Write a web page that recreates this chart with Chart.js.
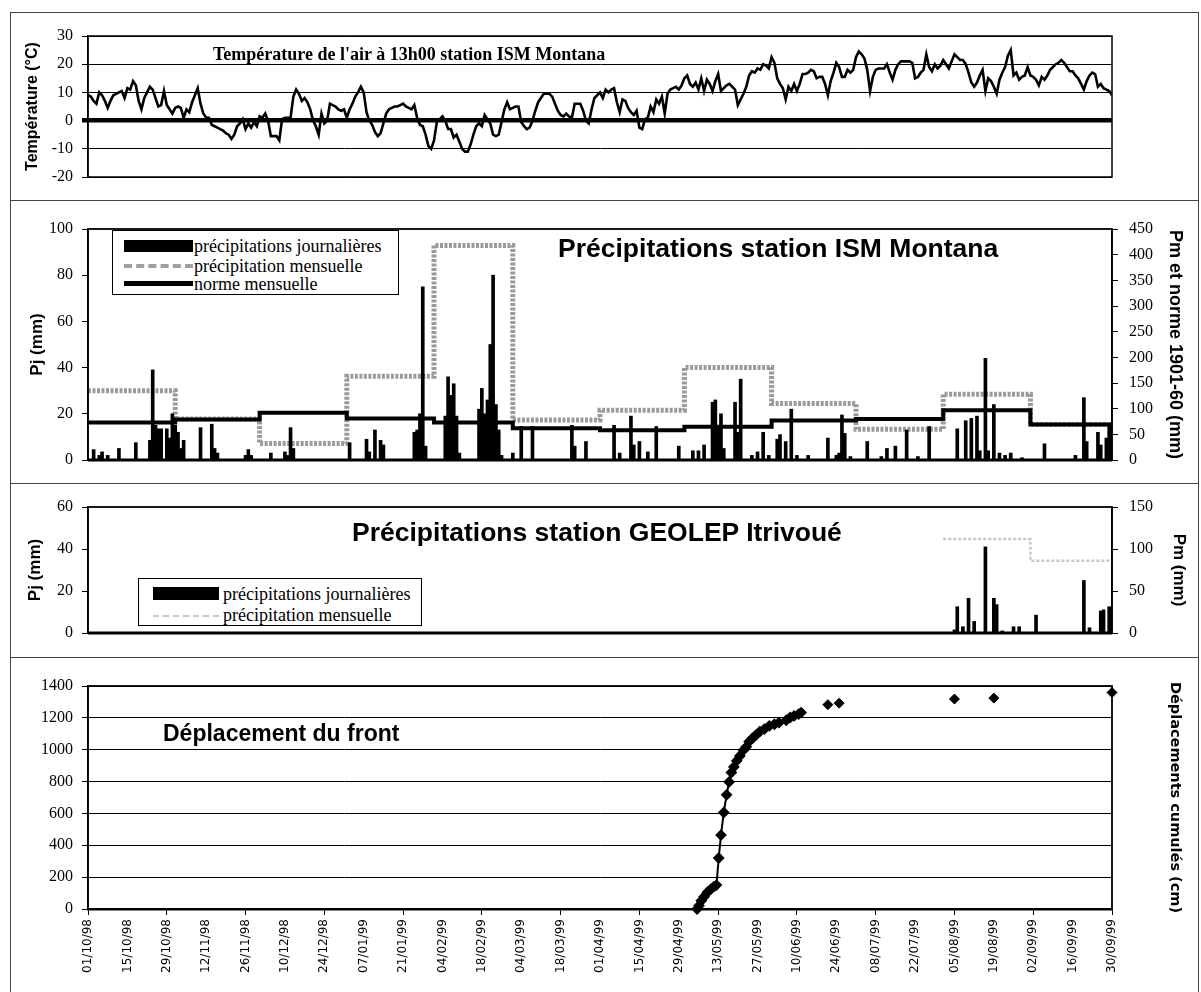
<!DOCTYPE html>
<html>
<head>
<meta charset="utf-8">
<script src="https://cdn.jsdelivr.net/npm/chart.js@4.4.1/dist/chart.umd.min.js"></script>
<style>
  body { margin: 0; background: #fff; }
  #page { position: relative; width: 1201px; height: 992px; overflow: hidden; background: #fff; }
  canvas { position: absolute; left: 0; }
  .hline { position: absolute; height: 0; border-top: 1.5px solid #444; }
  .vline { position: absolute; width: 0; border-left: 1.5px solid #444; }
  .txt { position: absolute; white-space: nowrap; color: #000; }
  .serif { font-family: "Liberation Serif", serif; }
  .sans { font-family: "Liberation Sans", Arial, sans-serif; font-weight: bold; }
  .legend { position: absolute; border: 1px solid #000; background: #fff; }
  .legend .s { position: absolute; }
  .legend .t { position: absolute; white-space: nowrap; font-family: "Liberation Serif", serif; color: #000; }
</style>
</head>
<body>
<div id="page">
  <!-- panel frames -->
  <div class="hline" style="left:10px;top:12px;width:1189px"></div>
  <div class="hline" style="left:10px;top:200px;width:1189px"></div>
  <div class="hline" style="left:10px;top:483px;width:1189px"></div>
  <div class="hline" style="left:10px;top:657px;width:1189px"></div>
  <div class="vline" style="left:10px;top:12px;height:980px"></div>
  <div class="vline" style="left:1198px;top:12px;height:980px"></div>

  <canvas id="tempChart" width="1201" height="188" style="top:12px"></canvas>
  <canvas id="rainChart" width="1201" height="283" style="top:200px"></canvas>
  <canvas id="geoChart" width="1201" height="174" style="top:483px"></canvas>
  <canvas id="dispChart" width="1201" height="335" style="top:657px"></canvas>

  <!-- titles -->
  <div class="txt serif" style="left:213px;top:44px;font-size:18px;font-weight:bold;line-height:21px">Température de l'air à 13h00 station ISM Montana</div>
  <div class="txt sans" style="left:558px;top:233px;font-size:26.5px;line-height:30px">Précipitations station ISM Montana</div>
  <div class="txt sans" style="left:352px;top:517px;font-size:26.5px;line-height:30px">Précipitations station GEOLEP Itrivoué</div>
  <div class="txt sans" style="left:163px;top:720px;font-size:23px;line-height:27px">Déplacement du front</div>

  <!-- legend ISM -->
  <div class="legend" style="left:112px;top:230px;width:285px;height:63px">
    <div class="s" style="left:11px;top:9px;width:69px;height:12px;background:#000"></div>
    <div class="t" style="left:81px;top:5px;font-size:18px;line-height:20px">précipitations journalières</div>
    <div class="s" style="left:11px;top:33px;width:69px;height:0;border-top:4px dashed #a0a0a0"></div>
    <div class="t" style="left:81px;top:25px;font-size:18px;line-height:20px">précipitation mensuelle</div>
    <div class="s" style="left:11px;top:50px;width:69px;height:5px;background:#000"></div>
    <div class="t" style="left:81px;top:43px;font-size:18px;line-height:20px">norme mensuelle</div>
  </div>

  <!-- legend GEOLEP -->
  <div class="legend" style="left:138px;top:578px;width:282px;height:46px">
    <div class="s" style="left:14px;top:8px;width:66px;height:13px;background:#000"></div>
    <div class="t" style="left:84px;top:5px;font-size:18px;line-height:20px">précipitations journalières</div>
    <div class="s" style="left:14px;top:36px;width:66px;height:0;border-top:2px dashed #c8c8c8"></div>
    <div class="t" style="left:84px;top:26px;font-size:18px;line-height:20px">précipitation mensuelle</div>
  </div>
</div>

<script>
// DATA ------------------------------------------------------------

// x axis: days since 01/10/98
const xTickLabels = [
  "01/10/98", "15/10/98", "29/10/98", "12/11/98", "26/11/98", "10/12/98", "24/12/98",
  "07/01/99", "21/01/99", "04/02/99", "18/02/99", "04/03/99", "18/03/99", "01/04/99",
  "15/04/99", "29/04/99", "13/05/99", "27/05/99", "10/06/99", "24/06/99", "08/07/99",
  "22/07/99", "05/08/99", "19/08/99", "02/09/99", "16/09/99", "30/09/99"
];
const lastDay = 364;

// air temperature at 13h00, one value per day (°C)
const temps = [
  9, 8.5, 7, 6, 10, 9, 7, 4.5, 7, 9,
  9.5, 10, 10.5, 8, 11.5, 11, 14, 12.5, 7, 4,
  8, 10, 12, 11, 8, 5, 5.5, 10.5, 5.5, 4,
  2.5, 4.5, 5, 4.5, 1, 4, 3, 6.5, 9, 11.5,
  6, 2.5, 1, 1, -1.5, -2, -2.5, -3, -3.5, -4.5,
  -5, -6.5, -5, -2, -1, 0.5, -3, -1, -2.5, -0.5,
  -2, 1.5, 1, 2.5, 0, -5.5, -5.5, -5.5, -7, 0.5,
  1, 1, 1, 8.5, 11, 9.5, 7, 8, 6.5, 4,
  0, -2, -5, 2.5, -1, 0, 6, 5.5, 5, 4,
  3.5, 4, 1, 4, 6, 8.5, 10, 12, 10, 3,
  0, -1.5, -4, -5.5, -4.5, -1, 2.5, 4, 4.5, 5,
  5, 5.5, 6, 5, 4.5, 4, 5.5, 1, -1.5, -2,
  -5, -9, -10, -7, -0.5, 0.5, 1.5, 0, -3, -3,
  -6, -5, -7.5, -10, -11, -11, -8.5, -5, -2, -1,
  -2, 2, 0.5, -1, -5, -5.5, -5, -0.5, 4, 6.5,
  4, 4.5, 5, 5, -0.5, -2, -3, -2.5, 0, 3.5,
  6.5, 8, 9.5, 9.5, 9.5, 8.5, 6, 3.5, 2, 1.5,
  2.5, 1.5, 1, 6, 6, 6, 3.5, 0, -1, 4,
  8, 9, 10, 8, 11, 10, 11, 11.5, 6.5, 3,
  7.5, 7, 4.5, 3, 2, 3.5, -2.5, -3, 0.5, 1,
  5, 3, 7.5, 6, 8.5, 2.5, 9.5, 11, 11.5, 12,
  11, 12.5, 15, 16, 13, 12, 13.5, 11, 15, 10.5,
  14.5, 13, 10.5, 14, 16.5, 10.5, 11.5, 12.5, 13, 12,
  11, 5.5, 7.5, 9.5, 12, 16, 17.5, 17, 18.5, 18,
  20, 19.5, 18.5, 22.5, 20.5, 15, 13, 11.5, 7.5, 12,
  10.5, 13, 10.5, 13, 16.5, 16.5, 17, 18, 17.5, 15,
  15.5, 15.5, 13, 9, 14, 17, 20.5, 19, 15.5, 15.5,
  18, 17, 18, 22.5, 24.5, 23.5, 22, 18, 10.5, 15.5,
  18, 18.5, 18.5, 18.5, 20, 17, 14.5, 18, 20, 21,
  21, 21, 21, 20.5, 15, 15.5, 17, 18, 23.5, 19,
  17.5, 20, 18.5, 19.5, 21.5, 20, 18.5, 21, 23.5, 22.5,
  21.5, 21.5, 20, 17, 13.5, 12, 13.5, 16, 18, 10.5,
  15, 14, 12, 9.5, 14.5, 17, 19, 23, 25, 16,
  17, 14.5, 15.5, 16, 19, 16, 15.5, 14.5, 12.5, 15.5,
  14.5, 16, 18, 19, 20, 20.5, 21.5, 20.5, 19, 17.5,
  17.5, 16, 15, 13, 11, 14, 16, 17, 16.5, 12,
  13, 11.5, 11, 10.5, 9
];

// ISM Montana daily precipitation (mm)
const rainDays = [
  2, 4, 5, 7, 11, 17, 22, 23, 24, 25, 26, 28, 29, 30, 31, 32, 33, 34, 40, 44, 45, 46,
  56, 57, 58, 65, 70, 71, 72, 73, 93, 99, 100, 102, 104, 105, 116, 117, 118, 119, 120,
  127, 128, 129, 130, 131, 132, 139, 140, 141, 142, 143, 144, 145, 146, 147, 151, 154,
  158, 172, 173, 177, 187, 189, 193, 194, 196, 199, 202, 210, 215, 217, 219, 222, 223,
  224, 225, 226, 230, 231, 232, 236, 238, 240, 242, 245, 246, 248, 250, 252, 256, 263,
  266, 267, 268, 269, 271, 277, 282, 284, 287, 291, 295, 299, 309, 312, 314, 316, 317,
  319, 320, 322, 324, 326, 328, 332, 340, 351, 354, 355, 359, 360, 362, 363, 364
];
const rainValues = [
  4.5, 2, 3.5, 2, 5, 7.5, 8.5, 39, 15, 13.5, 13.5, 13.5, 9.5, 20, 15, 12, 5, 8.5, 14, 15.5, 5, 3,
  2, 4.5, 2, 3, 3.5, 2, 14, 5, 7.5, 9, 3.5, 13, 8.5, 6.5, 12, 13, 20, 75, 6,
  19, 36, 28, 33, 19, 3, 22, 31, 20, 26, 50, 80, 24, 13, 2, 3, 14.5,
  14.5, 15, 6, 8, 15, 3, 19, 6.5, 8, 3.5, 14.5, 6, 4, 4, 6.5, 25, 26,
  15, 20, 5, 25, 12, 35, 2, 3.5, 12, 2, 9, 11, 8, 22, 2, 2, 9.5,
  2, 3, 19.5, 11.5, 1.5, 8, 1.5, 5, 6, 13, 1.5, 14.5, 13.5, 17, 18, 19, 4,
  44, 4, 24, 3, 2, 3, 1, 7, 2, 27, 8, 12, 6.5, 9.5, 15, 4
];

// monthly values (mm, right axis), starting day of each month
const monthStarts = [0, 31, 61, 92, 123, 151, 182, 212, 243, 273, 304, 335];
const monthlyRain = [135, 80, 32, 163, 418, 78, 97, 180, 110, 60, 128, 69];
const monthlyNorm = [73, 79, 92, 81, 73, 62, 58, 65, 77, 80, 97, 69];

// GEOLEP Itrivoue
const geoDays = [308, 309, 311, 313, 315, 319, 322, 323, 325, 329, 331, 337, 354, 356, 360, 361, 363, 364];
const geoValues = [1.5, 12.5, 3, 16.5, 5.5, 41, 16.5, 13.5, 1, 3, 3, 8.5, 25, 2.5, 10.5, 11, 12.5, 9.5];
const geoMonthStarts = [304, 335];
const geoMonthly = [112, 86];

// front displacement (cm)
const dispDays = [
  216.5, 217.2, 218, 219, 220.2, 221.4, 222.5, 223.4, 224.2, 225, 226, 227, 227.9, 228.7,
  229.6, 230.6, 231.7, 233, 234, 235, 236.2, 237.5, 238.8, 240.4, 242.2, 244, 245.6, 248.2,
  249.6, 251, 252.6, 253.5
];
const dispValues = [
  0, 21, 52, 77, 105, 125, 140, 150, 320, 464, 606, 717, 798, 857,
  892, 930, 961, 997, 1018, 1051, 1072, 1093, 1114, 1129, 1150, 1160, 1170, 1185,
  1202, 1212, 1223, 1233
];
const dispLateDays = [263, 267, 308, 322, 364];
const dispLateValues = [1283, 1292, 1318, 1324, 1359];

// HELPERS ---------------------------------------------------------

Chart.defaults.animation = false;
Chart.defaults.color = "#000";
Chart.defaults.font.family = "'Liberation Serif', serif";
Chart.defaults.font.size = 16;
Chart.defaults.plugins.legend.display = false;
Chart.defaults.plugins.tooltip.enabled = false;

const sansBold = "'Liberation Sans', Arial, sans-serif";

function toPoints(days, values) {
  return days.map((d, i) => ({ x: d, y: values[i] }));
}

// monthly steps: each value held until next month start, last one to the end
function stepPoints(starts, values) {
  const pts = toPoints(starts, values);
  pts.push({ x: lastDay, y: values[values.length - 1] });
  return pts;
}

const framePlugin = {
  id: "frame",
  afterDatasetsDraw(chart, args, opts) {
    const { ctx, chartArea: a } = chart;
    ctx.save();
    ctx.strokeStyle = "#000";
    ctx.lineWidth = opts.width || 1.5;
    ctx.strokeRect(a.left, a.top, a.right - a.left, a.bottom - a.top);
    if (opts.base) {
      ctx.lineWidth = opts.base;
      ctx.beginPath();
      ctx.moveTo(a.left, a.bottom);
      ctx.lineTo(a.right, a.bottom);
      ctx.stroke();
    }
    ctx.restore();
  }
};

const hiddenX = { type: "linear", min: 0, max: lastDay, offset: false, display: false };

function leftAxis(min, max, step, title, titleCenter, titleSize, extra) {
  return Object.assign({
    min, max,
    ticks: { stepSize: step, padding: 9, font: { size: 16 }, callback: (v) => String(v) },
    grid: { drawOnChartArea: false, tickLength: 6, tickColor: "#000", color: "#000" },
    border: { color: "#000", width: 1.5 },
    title: {
      display: !!title,
      text: title,
      font: { family: sansBold, weight: "bold", size: titleSize },
      padding: { top: titleCenter - titleSize * 0.6, bottom: 0 }
    },
    afterFit: (s) => { s.width = 88; }
  }, extra || {});
}

function rightAxis(min, max, step, title, titleCenter, font) {
  return {
    position: "right",
    min, max,
    ticks: { stepSize: step, padding: 11, font: { size: 16 }, display: step > 0, callback: (v) => String(v) },
    grid: { drawOnChartArea: false, tickLength: 6, tickColor: "#000", display: step > 0 },
    border: { color: "#000", width: 1.5, display: step > 0 },
    title: {
      display: true,
      text: title,
      font: font,
      padding: { top: 1201 - titleCenter - font.size * 0.6, bottom: 0 }
    },
    afterFit: (s) => { s.width = 89; }
  };
}

// TEMPERATURE -----------------------------------------------------
new Chart(document.getElementById("tempChart"), {
  type: "line",
  data: {
    datasets: [{
      data: temps.map((t, i) => ({ x: i, y: t })),
      borderColor: "#000",
      borderWidth: 2.6,
      pointRadius: 0,
      tension: 0
    }]
  },
  options: {
    responsive: false,
    layout: { padding: { left: 0, right: 89, top: 24, bottom: 23 } },
    scales: {
      x: hiddenX,
      y: leftAxis(-20, 30, 10, "Température (°C)", 33, 16, {
        grid: {
          color: "#000",
          lineWidth: (c) => (c.tick && c.tick.value === 0 ? 4.5 : 1),
          tickLength: 6,
          tickColor: "#000"
        }
      })
    },
    plugins: { frame: { width: 1.5 } }
  },
  plugins: [framePlugin]
});

// ISM MONTANA PRECIPITATION ---------------------------------------
new Chart(document.getElementById("rainChart"), {
  data: {
    datasets: [
      {
        type: "line",
        data: stepPoints(monthStarts, monthlyNorm),
        yAxisID: "y2",
        stepped: true,
        borderColor: "#000",
        borderWidth: 4,
        pointRadius: 0,
        order: 0
      },
      {
        type: "bar",
        data: toPoints(rainDays, rainValues),
        yAxisID: "y",
        backgroundColor: "#000",
        barThickness: 3,
        order: 1
      },
      {
        type: "line",
        data: stepPoints(monthStarts, monthlyRain),
        yAxisID: "y2",
        stepped: true,
        borderColor: "#9a9a9a",
        borderWidth: 5,
        borderDash: [3, 1.5],
        pointRadius: 0,
        order: 2
      }
    ]
  },
  options: {
    responsive: false,
    layout: { padding: { left: 0, right: 0, top: 29, bottom: 23 } },
    scales: {
      x: hiddenX,
      y: leftAxis(0, 100, 20, "Pj (mm)", 37, 17),
      y2: rightAxis(0, 450, 50, "Pm et norme 1901-60 (mm)", 1175,
        { family: sansBold, weight: "bold", size: 18 })
    },
    plugins: { frame: { width: 1.8, base: 3 } }
  },
  plugins: [framePlugin]
});

// GEOLEP ITRIVOUE PRECIPITATION -----------------------------------
new Chart(document.getElementById("geoChart"), {
  data: {
    datasets: [
      {
        type: "bar",
        data: toPoints(geoDays, geoValues),
        yAxisID: "y",
        backgroundColor: "#000",
        barThickness: 3,
        order: 0
      },
      {
        type: "line",
        data: stepPoints(geoMonthStarts, geoMonthly),
        yAxisID: "y2",
        stepped: true,
        borderColor: "#c8c8c8",
        borderWidth: 2.5,
        borderDash: [3, 2],
        pointRadius: 0,
        order: 1
      }
    ]
  },
  options: {
    responsive: false,
    layout: { padding: { left: 0, right: 0, top: 24, bottom: 24 } },
    scales: {
      x: hiddenX,
      y: leftAxis(0, 60, 20, "Pj (mm)", 35, 17),
      y2: rightAxis(0, 150, 50, "Pm (mm)", 1179,
        { family: sansBold, weight: "bold", size: 17 })
    },
    plugins: { frame: { width: 1.8, base: 3 } }
  },
  plugins: [framePlugin]
});

// FRONT DISPLACEMENT ----------------------------------------------
new Chart(document.getElementById("dispChart"), {
  type: "line",
  data: {
    datasets: [
      {
        data: toPoints(dispDays, dispValues),
        borderColor: "#000",
        borderWidth: 2,
        backgroundColor: "#000",
        pointStyle: "rectRot",
        pointRadius: 4.5,
        clip: false
      },
      {
        data: toPoints(dispLateDays, dispLateValues),
        showLine: false,
        borderColor: "#000",
        backgroundColor: "#000",
        pointStyle: "rectRot",
        pointRadius: 5,
        clip: false
      }
    ]
  },
  options: {
    responsive: false,
    layout: { padding: { left: 0, right: 0, top: 29, bottom: 0 } },
    scales: {
      x: {
        type: "linear",
        min: 0,
        max: lastDay,
        offset: false,
        ticks: {
          stepSize: 14,
          autoSkip: false,
          minRotation: 90,
          maxRotation: 90,
          padding: 4,
          font: { family: "'DejaVu Sans', sans-serif", size: 12 },
          callback: (v, i) => xTickLabels[i]
        },
        grid: {
          drawOnChartArea: false,
          tickLength: 6,
          tickColor: (c) => (c.index % 2 === 0 ? "#000" : "rgba(0,0,0,0)")
        },
        border: { color: "#000", width: 2.5 },
        afterFit: (s) => { s.height = 83; }
      },
      y: leftAxis(0, 1400, 200, "", 0, 16, {
        grid: { color: "#000", lineWidth: 1, tickLength: 6, tickColor: "#000" }
      }),
      y2: rightAxis(0, 1, 0, "Déplacements cumulés (cm)", 1175,
        { family: "'DejaVu Sans', sans-serif", weight: "bold", size: 14.5 })
    },
    plugins: { frame: { width: 1.8 } }
  },
  plugins: [framePlugin]
});
</script>
</body>
</html>
